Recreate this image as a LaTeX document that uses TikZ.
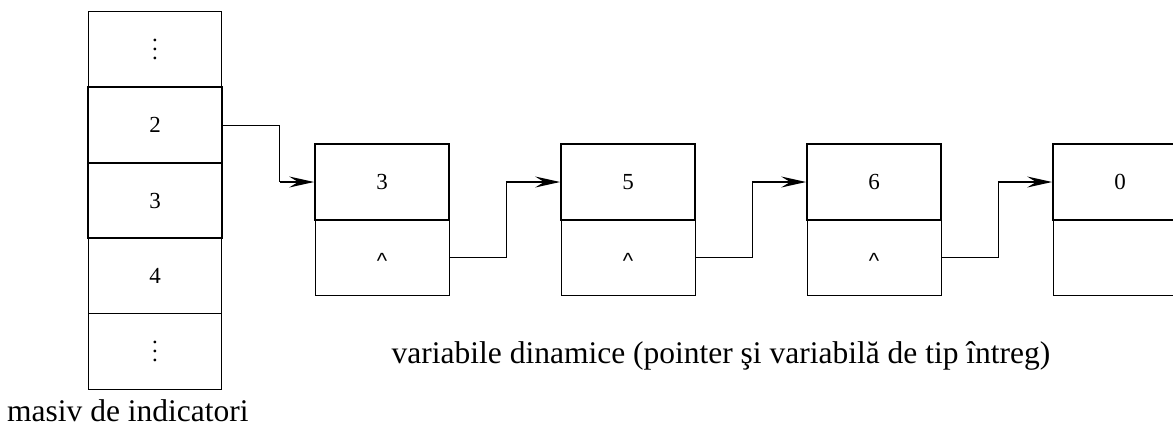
\documentclass[tikz,border=0pt]{standalone}
\usepackage{fontspec}
\setmainfont{Liberation Serif}
\newfontfamily\caretfont{Liberation Sans}
\usetikzlibrary{arrows.meta,calc}

% three stacked dots for the elided cells
\newcommand{\stackdots}{\vbox{\baselineskip9.3pt\lineskiplimit-20pt\hbox{.}\hbox{.}\hbox{.}}}

\tikzset{
  thinline/.style={line width=0.8pt, draw=black},
  thickline/.style={line width=1.7pt, draw=black},
  cell/.style={rectangle, inner sep=0pt, minimum width=133.4pt, minimum height=75.5pt,
               font=\fontsize{23}{27}\selectfont},
  cellthin/.style={cell, thinline},
  cellthick/.style={cell, thickline},
  valbox/.style={rectangle, inner sep=0pt, minimum width=134pt, minimum height=76pt,
                 thickline, font=\fontsize{23}{27}\selectfont},
  ptrbox/.style={rectangle, inner sep=0pt, minimum width=134pt, minimum height=75.5pt,
                 thinline},
  caret/.style={font=\caretfont\fontsize{22}{26}\selectfont, inner sep=0pt, anchor=base},
  link/.style={thinline},
  linkhead/.style={thickline, -{Stealth[length=25pt, width=11pt, inset=9pt]}},
  label/.style={font=\fontsize{31.5}{36}\selectfont, inner sep=0pt, anchor=base},
}

\begin{document}
\begin{tikzpicture}[x=1pt, y=-1pt]
\useasboundingbox (0,0) rectangle (1173,426);

% array of pointers
\node[cellthin]  (c1) at (155, 49.5)  {\stackdots};
\node[cellthin]  (c4) at (155, 276.0) {4};
\node[cellthin]  (c5) at (155, 351.5) {\stackdots};
\node[cellthick] (c2) at (155, 125.0) {2};
\node[cellthick] (c3) at (155, 200.5) {3};

% dynamic variables: value on top, pointer below
\foreach \i/\x/\v in {1/382/3, 2/628/5, 3/874/6, 4/1120/0} {
  \node[ptrbox] (p\i) at (\x, 257.7) {};
  \node[valbox] (v\i) at (\x, 182) {\v};
}
\foreach \i in {1,2,3} {
  \node[caret] (h\i) at ($(p\i.center)+(0,11)$) {\textasciicircum};
}

% links
\draw[link] (c2.east) -- ++(57,0) coordinate (k0) -- (k0 |- v1.west) coordinate (e0);
\draw[linkhead] (e0) -- (v1.west);
\draw[link] (p1.east) -- ++(56.5,0) coordinate (k1) -- (k1 |- v2.west) coordinate (e1);
\draw[linkhead] (e1) -- (v2.west);
\draw[link] (p2.east) -- ++(56.5,0) coordinate (k2) -- (k2 |- v3.west) coordinate (e2);
\draw[linkhead] (e2) -- (v3.west);
\draw[link] (p3.east) -- ++(56.5,0) coordinate (k3) -- (k3 |- v4.west) coordinate (e3);
\draw[linkhead] (e3) -- (v4.west);

% captions
\node[label] (capdyn) at (721, 363) {variabile dinamice (pointer şi variabilă de tip întreg)};
\node[label, anchor=base west] (caparr) at (7, 421) {masiv de indicatori};
\end{tikzpicture}
\end{document}
